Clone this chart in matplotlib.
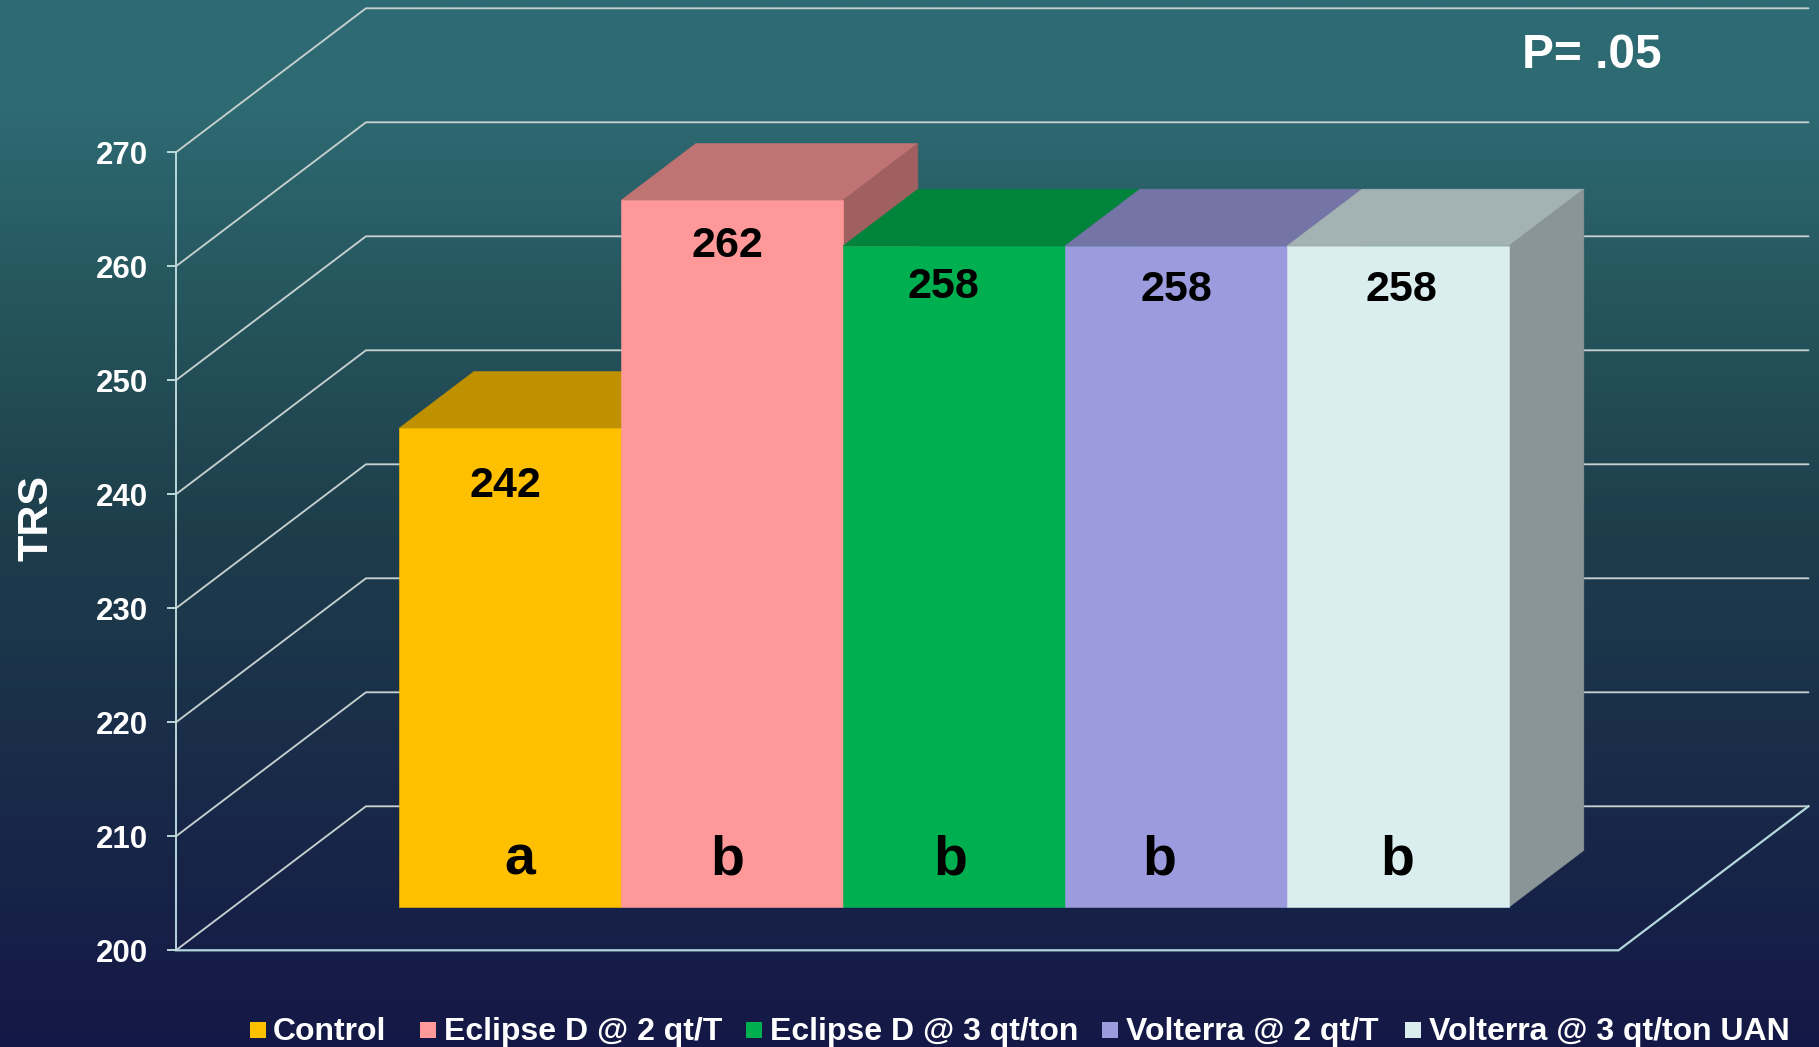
import numpy as np
import matplotlib
matplotlib.use("Agg")
import matplotlib.pyplot as plt
from matplotlib.colors import LinearSegmentedColormap, to_rgb
from matplotlib.patches import Polygon, Rectangle

categories = ["Control", "Eclipse D @ 2 qt/T", "Eclipse D @ 3 qt/ton",
              "Volterra @ 2 qt/T", "Volterra @ 3 qt/ton UAN"]
values = [242, 262, 258, 258, 258]
letters = ["a", "b", "b", "b", "b"]
ticks = [200, 210, 220, 230, 240, 250, 260, 270]
colors = ["#FFC000", "#FF9999", "#00B050", "#9B9BDE", "#DAEDEF"]

plt.rcParams["font.family"] = ["Liberation Sans", "DejaVu Sans"]
plt.rcParams["font.weight"] = "bold"

W, H = 1819, 1047
# pixel layout of the oblique chart
PX_UNIT = 222.0      # width of one category
PX_X0 = 342.0        # x=0 at depth 0
PX_Y200 = 950.3      # value 200 at depth 0
PX_PER_V = 11.40     # pixels per TRS unit
DX = 190 / PX_UNIT   # shift in x for full depth
DV = 144 / PX_PER_V  # shift in value for full depth
XMIN, XMAX = -0.748, 5.75
BAR_D0, BAR_D1 = 0.30, 0.694


def proj(x, v, d):
    return x + d * DX, v + d * DV


fig = plt.figure(figsize=(W / 100, H / 100), dpi=100)
ax = fig.add_axes([0, 0, 1, 1])
xl = (-PX_X0 / PX_UNIT, (W - PX_X0) / PX_UNIT)
yl = (200 - (H - PX_Y200) / PX_PER_V, 200 + PX_Y200 / PX_PER_V)

# background gradient
cmap = LinearSegmentedColormap.from_list("bg", [
    (0.0, "#2F6B74"), (0.10, "#2E6A72"), (0.30, "#25545C"), (0.50, "#1E3E4C"),
    (0.75, "#192A49"), (1.0, "#141846")])
ax.imshow(np.linspace(0, 1, 512)[:, None], extent=(*xl, *yl), aspect="auto",
          cmap=cmap, origin="upper", zorder=0)
ax.set_xlim(*xl)
ax.set_ylim(*yl)

# walls & floor
grid_kw = dict(color="#C6D0CF", lw=1.35, zorder=1, solid_capstyle="round")
for t in ticks:
    p0 = proj(XMIN, t, 0)
    p1 = proj(XMIN, t, 1)
    p2 = proj(XMAX, t, 1)
    ax.plot([p0[0], p1[0], p2[0]], [p0[1], p1[1], p2[1]], **grid_kw)
p0 = proj(XMIN, ticks[0], 0)
p1 = proj(XMAX, ticks[0], 0)
p2 = proj(XMAX, ticks[0], 1)
ax.plot([p0[0], p1[0], p2[0]], [p0[1], p1[1], p2[1]], color="#B5D8DC", lw=1.6,
        zorder=1.5, solid_joinstyle="miter")


def shade(c, f):
    return tuple(f * np.array(to_rgb(c)))


# bars, drawn from left to right so later ones cover earlier side faces
for i, (v, c) in enumerate(zip(values, colors)):
    z = 2 + i * 0.1
    a = proj(i, v, BAR_D0)
    b = proj(i + 1, v, BAR_D0)
    e = proj(i + 1, v, BAR_D1)
    f = proj(i, v, BAR_D1)
    g = proj(i + 1, ticks[0], BAR_D0)
    h = proj(i + 1, ticks[0], BAR_D1)
    k = proj(i, ticks[0], BAR_D0)
    top = shade(c, 0.75)
    side = shade(c, 0.63)
    ax.add_patch(Polygon([a, b, e, f], closed=True, fc=top, ec=top, lw=0.4, zorder=z))
    ax.add_patch(Polygon([b, e, h, g], closed=True, fc=side, ec=side, lw=0.4, zorder=z))
    ax.add_patch(Polygon([k, g, b, a], closed=True, fc=c, ec=c, lw=0.4, zorder=z + 0.01))

# labels anchored on each bar
value_off = [(-5, -69), (-5, -57), (-11, -52), (0, -55.5), (3, -55.5)]
letter_off = [(10, 33), (-5, 33), (-4, 33), (-17, 33), (-1, 33)]
for i, v in enumerate(values):
    cx, cy = proj(i + 0.5, v, BAR_D0)
    ax.annotate(str(v), xy=(cx, cy), xytext=value_off[i], textcoords="offset pixels",
                ha="center", va="baseline", fontsize=31, color="black",
                fontweight="bold", zorder=5)
    bx, by = proj(i + 0.5, ticks[0], BAR_D0)
    ax.annotate(letters[i], xy=(bx, by), xytext=letter_off[i], textcoords="offset pixels",
                ha="center", va="baseline", fontsize=40, color="black",
                fontweight="bold", zorder=5)

# value axis
for s in ["top", "right", "bottom"]:
    ax.spines[s].set_visible(False)
ax.spines["left"].set_position(("data", XMIN))
ax.spines["left"].set_bounds(ticks[0], ticks[-1])
ax.spines["left"].set_color("#BFDDE0")
ax.spines["left"].set_linewidth(1.35)
ax.spines["left"].set_zorder(3)
ax.set_xticks([])
ax.set_yticks(ticks)
ax.tick_params(axis="y", direction="out", length=6.5, width=1.35, color="#BFDDE0",
               pad=13.5, labelcolor="white", labelsize=22.5)
ax.set_ylabel("TRS", color="white", fontsize=31, fontweight="bold", va="center")
ax.yaxis.set_label_coords(36 / W, 1 - 518 / H)

ax.text(1522 / W, 1 - 68 / H, "P= .05", transform=ax.transAxes, color="white",
        fontsize=34.5, fontweight="bold", ha="left", va="baseline", zorder=5)

# legend row, placed to follow the uneven spacing of the original
legend_marker_px = [250, 420, 746, 1102, 1405]
legend_text_px = [273, 444, 770, 1126, 1429]
for name, c, mx, tx in zip(categories, colors, legend_marker_px, legend_text_px):
    ax.add_patch(Rectangle((mx / W, 1 - 1038 / H), 16 / W, 16 / H, transform=ax.transAxes,
                           fc=c, ec="none", zorder=5))
    ax.text(tx / W, 1 - 1040 / H, name, transform=ax.transAxes, color="white",
            fontsize=23, fontweight="bold", ha="left", va="baseline", zorder=5)

fig.savefig("out.png", dpi=100)
